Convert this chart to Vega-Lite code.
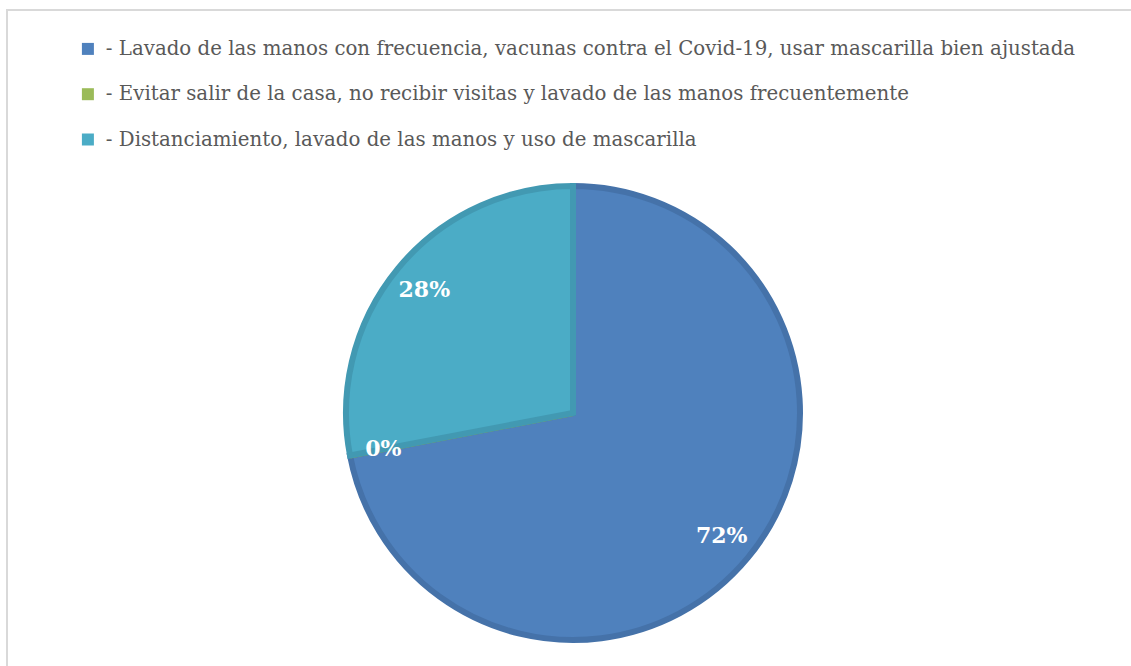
{
  "$schema": "https://vega.github.io/schema/vega-lite/v6.json",
  "width": 1132,
  "height": 806,
  "padding": {"left": 7, "top": 10, "right": 0, "bottom": 0},
  "autosize": {"type": "none"},
  "background": "white",
  "view": {"stroke": "#d9d9d9", "strokeWidth": 2},
  "config": {"view": {"stroke": "#d9d9d9", "strokeWidth": 2}},
  "data": {
    "values": [
      {"cat": "- Lavado de las manos con frecuencia, vacunas contra el Covid-19, usar mascarilla bien ajustada", "value": 72, "label": "72%", "ord": 1},
      {"cat": "- Evitar salir de la casa, no recibir visitas y lavado de las manos frecuentemente", "value": 0, "label": "0%", "ord": 2},
      {"cat": "- Distanciamiento, lavado de las manos y uso de mascarilla", "value": 28, "label": "28%", "ord": 3}
    ]
  },
  "encoding": {
    "theta": {"field": "value", "type": "quantitative", "stack": true},
    "order": {"field": "ord", "type": "quantitative"}
  },
  "layer": [
    {
      "mark": {"type": "arc", "outerRadius": 227, "strokeWidth": 6, "strokeJoin": "miter"},
      "encoding": {
        "color": {
          "field": "cat",
          "type": "nominal",
          "sort": null,
          "scale": {
            "domain": [
              "- Lavado de las manos con frecuencia, vacunas contra el Covid-19, usar mascarilla bien ajustada",
              "- Evitar salir de la casa, no recibir visitas y lavado de las manos frecuentemente",
              "- Distanciamiento, lavado de las manos y uso de mascarilla"
            ],
            "range": ["#4F81BD", "#9BBB59", "#4BACC6"]
          },
          "legend": {
            "title": null,
            "orient": "none",
            "legendX": 71,
            "legendY": 29,
            "symbolType": "square",
            "symbolSize": 144,
            "symbolStrokeWidth": 0,
            "labelFont": "DejaVu Serif",
            "labelFontSize": 19.8,
            "labelColor": "#595959",
            "labelLimit": 0,
            "rowPadding": 24.3,
            "labelOffset": 8
          }
        },
        "stroke": {
          "field": "cat",
          "type": "nominal",
          "sort": null,
          "scale": {
            "domain": [
              "- Lavado de las manos con frecuencia, vacunas contra el Covid-19, usar mascarilla bien ajustada",
              "- Evitar salir de la casa, no recibir visitas y lavado de las manos frecuentemente",
              "- Distanciamiento, lavado de las manos y uso de mascarilla"
            ],
            "range": ["#4572A9", "#8AA84F", "#4299B2"]
          },
          "legend": null
        }
      }
    },
    {
      "mark": {"type": "text", "radius": 193, "font": "DejaVu Serif", "fontWeight": "bold", "fontSize": 22, "fill": "white"},
      "encoding": {
        "text": {"field": "label", "type": "nominal"}
      }
    }
  ]
}
